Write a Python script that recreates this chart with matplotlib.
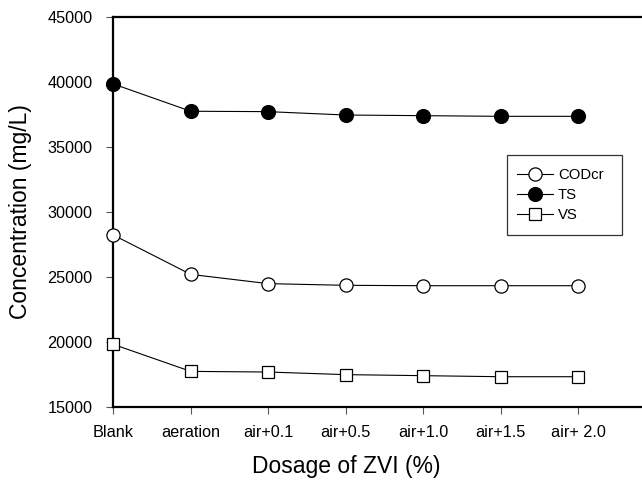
import matplotlib
matplotlib.use("Agg")
import matplotlib.pyplot as plt
from matplotlib.patches import Rectangle

categories = ["Blank", "aeration", "air+0.1", "air+0.5", "air+1.0", "air+1.5", "air+ 2.0"]
codcr = [28230, 25200, 24490, 24360, 24330, 24330, 24330]
ts = [39850, 37750, 37720, 37460, 37410, 37360, 37360]
vs = [19820, 17740, 17690, 17490, 17410, 17330, 17330]
yticks = [15000, 20000, 25000, 30000, 35000, 40000, 45000]

plt.rcParams['font.family'] = ['Liberation Sans', 'DejaVu Sans']

W, H = 642, 482
fig = plt.figure(figsize=(W / 100, H / 100), dpi=100)
x0, x1, ytop, ybot = 113.3, 642, 17, 407
ax = fig.add_axes([x0 / W, (H - ybot) / H, (x1 - x0) / W, (ybot - ytop) / H])

x = list(range(len(categories)))
common = dict(color='black', lw=0.8, mec='black', mew=0.9, clip_on=False, zorder=3)
ax.plot(x, codcr, marker='o', ms=9.5, mfc='white', label='CODcr', **common)
ax.plot(x, ts, marker='o', ms=10, mfc='black', label='TS', **common)
ax.plot(x, vs, marker='s', ms=8.5, mfc='white', label='VS', **common)

step = 77.45
ax.set_xlim(0, (x1 - x0) / step)
ax.set_ylim(15000, 45000)
ax.set_xticks(x)
ax.set_xticklabels(categories)
ax.set_yticks(yticks)
ax.set_yticklabels([str(v) for v in yticks])

for s in ['left', 'bottom', 'top']:
    ax.spines[s].set_linewidth(1.6)
ax.spines['right'].set_visible(False)
ax.tick_params(axis='both', direction='out', length=5, width=0.8, labelsize=11.7, color='#555555')
ax.tick_params(axis='y', pad=10)
ax.tick_params(axis='x', pad=8)

ax.set_xlabel('Dosage of ZVI (%)', fontsize=16.5)
ax.set_ylabel('Concentration (mg/L)', fontsize=16.5)
ax.xaxis.set_label_coords(0.5 * 1 + (346 - x0 - 0.5 * (x1 - x0)) / (x1 - x0), (ybot - 467) / (ybot - ytop))
ax.xaxis.label.set_va('center')
ax.yaxis.set_label_coords((21 - x0) / (x1 - x0), 0.5)
ax.yaxis.label.set_va('center')
ax.yaxis.label.set_ha('center')

# legend
leg = ax.legend(loc='center left', bbox_to_anchor=((517 - x0) / (x1 - x0), (ybot - 195) / (ybot - ytop)),
                frameon=False, borderpad=0, borderaxespad=0, fontsize=10.7,
                handlelength=2.4, handletextpad=0.35, labelspacing=0.4)
rx0, rx1, ry0, ry1 = 507, 622, 155, 235
rect = Rectangle(((rx0 - x0) / (x1 - x0), (ybot - ry1) / (ybot - ytop)),
                 (rx1 - rx0) / (x1 - x0), (ry1 - ry0) / (ybot - ytop),
                 transform=ax.transAxes, fill=False, edgecolor='#333333', lw=0.9, zorder=4)
ax.add_patch(rect)

fig.savefig('out.png', dpi=100)
